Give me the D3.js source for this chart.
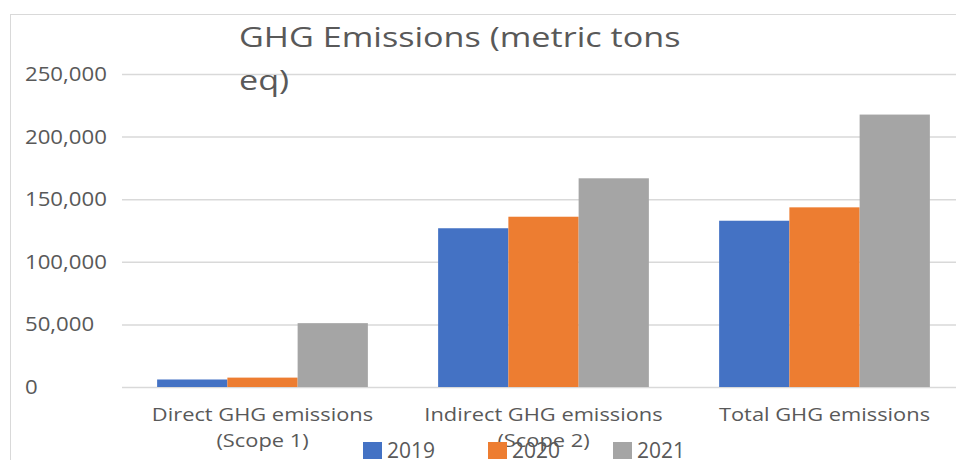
<!DOCTYPE html>
<html>
<head>
<meta charset="utf-8">
<script src="https://cdn.jsdelivr.net/npm/d3@7"></script>
<style>
  body { margin: 0; background: #fff; }
  svg { display: block; font-family: "Open Sans", sans-serif; }
</style>
</head>
<body>
<div id="chart"></div>
<script>
// Chart data
var categories = [["Direct GHG emissions", "(Scope 1)"], ["Indirect GHG emissions", "(Scope 2)"], ["Total GHG emissions"]];
var years = ["2019", "2020", "2021"];
var values2019 = [6000, 126800, 132800];
var values2020 = [7500, 136000, 143500];
var values2021 = [51000, 166700, 217600];
var yTicks = [0, 50000, 100000, 150000, 200000, 250000];
var colors = ["#4472C4", "#ED7D31", "#A5A5A5"];

var series = [values2019, values2020, values2021];

var svgWidth = 956;
var svgHeight = 460;

var svg = d3.select("#chart")
  .append("svg")
  .attr("width", svgWidth)
  .attr("height", svgHeight);

// chart border (only top & left visible in the crop)
svg.append("line")
  .attr("x1", 10).attr("x2", svgWidth)
  .attr("y1", 14.5).attr("y2", 14.5)
  .attr("stroke", "#d9d9d9");
svg.append("line")
  .attr("x1", 10.5).attr("x2", 10.5)
  .attr("y1", 14).attr("y2", svgHeight)
  .attr("stroke", "#d9d9d9");

// scales
var xScale = d3.scaleBand()
  .domain(d3.range(categories.length))
  .range([122, 965])
  .paddingInner(0.25)
  .paddingOuter(0.125);

var xInner = d3.scaleBand()
  .domain(d3.range(years.length))
  .range([0, xScale.bandwidth()]);

var yScale = d3.scaleLinear()
  .domain([0, 250000])
  .range([387, 74]);

// gridlines
var leftAxis = d3.axisLeft(yScale)
  .tickValues(yTicks)
  .tickSize(-(svgWidth - 122))
  .tickFormat("");

svg.append("g")
  .attr("transform", "translate(122,0)")
  .call(leftAxis)
  .call(g => g.select(".domain").remove())
  .call(g => g.selectAll(".tick line").attr("stroke", "#d9d9d9").attr("stroke-width", 1.5));

// y tick labels (left aligned like the original, text is a bit wide in the picture)
svg.append("g")
  .selectAll("text")
  .data(yTicks)
  .enter()
  .append("text")
  .attr("transform", d => `translate(25,${yScale(d)}) scale(1.11,1)`)
  .attr("dy", "0.35em")
  .attr("font-size", 20)
  .attr("fill", "#595959")
  .text(d => d3.format(",")(d));

// bars
var groups = svg.append("g")
  .selectAll("g")
  .data(categories)
  .enter()
  .append("g")
  .attr("transform", (d, i) => `translate(${xScale(i)},0)`);

groups.selectAll("rect")
  .data((d, i) => series.map((s, j) => ({ value: s[i], k: j })))
  .enter()
  .append("rect")
  .attr("x", d => xInner(d.k))
  .attr("y", d => yScale(d.value))
  .attr("width", xInner.bandwidth())
  .attr("height", d => yScale(0) - yScale(d.value))
  .attr("fill", d => colors[d.k]);

// x category labels
var xLabels = svg.append("g")
  .selectAll("text")
  .data(categories)
  .enter()
  .append("text")
  .attr("text-anchor", "middle")
  .attr("font-size", 19)
  .attr("fill", "#595959")
  .attr("transform", (d, i) => `translate(${xScale(i) + xScale.bandwidth() / 2},421) scale(1.15,1)`);

xLabels.selectAll("tspan")
  .data(d => d)
  .enter()
  .append("tspan")
  .attr("x", 0)
  .attr("y", (d, i) => i * 26)
  .text(d => d);

// title
var title = svg.append("text")
  .attr("transform", "translate(239,0) scale(1.22,1)")
  .attr("font-size", 28)
  .attr("fill", "#595959");
title.append("tspan").attr("x", 0).attr("y", 47).text("GHG Emissions (metric tons");
title.append("tspan").attr("x", 0).attr("y", 90).text("eq)");

// legend
var legendX = [363, 488, 613];
var legend = svg.append("g")
  .selectAll("g")
  .data(years)
  .enter()
  .append("g")
  .attr("transform", (d, i) => `translate(${legendX[i]},442)`);

legend.append("rect")
  .attr("width", 19)
  .attr("height", 17)
  .attr("fill", (d, i) => colors[i]);

legend.append("text")
  .attr("x", 24)
  .attr("y", 16)
  .attr("font-size", 21)
  .attr("fill", "#595959")
  .text(d => d);
</script>
</body>
</html>
